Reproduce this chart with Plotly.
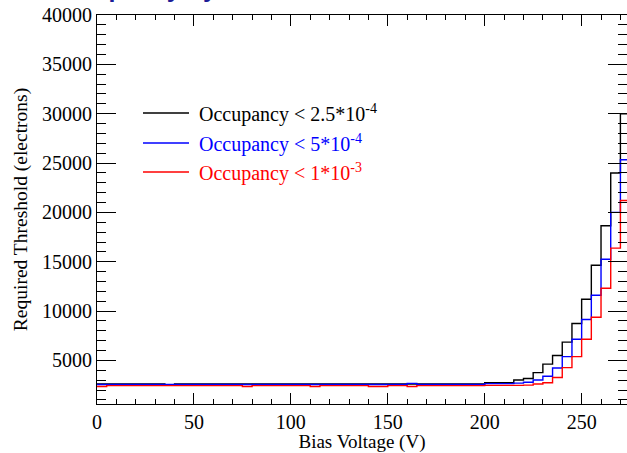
import plotly.graph_objects as go

# Bin edges of the bias-voltage histograms (5 V bins)
bin_width = 5
bin_lo = list(range(0, 275, bin_width))  # 0, 5, ..., 270

# Required threshold (electrons) per bin for each occupancy cut
thr_2p5e4 = [2620] * 40 + [2750, 2750, 2750, 3020, 3170, 3765, 4630, 5510,
                           6860, 8740, 11200, 14640, 18645, 23990, 29980]
thr_5e4 = [2570] * 40 + [2650, 2650, 2650, 2700, 2800, 3020, 3400, 4230,
                         5390, 7150, 9150, 11600, 15250, 20000, 25340]
thr_1e3 = [2450] * 40 + [2480, 2480, 2480, 2480, 2500, 2620, 2750, 3280,
                         4280, 5390, 7150, 9380, 12320, 16380, 21200]

# small bin-to-bin fluctuations on the flat part
thr_2p5e4[7] = 2540
thr_5e4[32] = 2680
for i in (0, 15, 22, 28, 29, 32):
    thr_1e3[i] = 2360

series = [
    ("Occupancy < 2.5*10<sup>-4</sup>", thr_2p5e4, "#000000"),
    ("Occupancy < 5*10<sup>-4</sup>", thr_5e4, "#0000ff"),
    ("Occupancy < 1*10<sup>-3</sup>", thr_1e3, "#ff0000"),
]

x_ticks = [0, 50, 100, 150, 200, 250]
y_ticks = [5000, 10000, 15000, 20000, 25000, 30000, 35000, 40000]

serif = "Liberation Serif, Times New Roman, serif"

W, H = 627, 453
ML, MR, MT, MB = 97, 0, 15, 49


def px_to_paper(px, py):
    """Convert page pixel coordinates to paper coordinates."""
    return ((px - ML) / (W - ML - MR), (H - MB - py) / (H - MT - MB))


fig = go.Figure()
for name, vals, col in series:
    xs = bin_lo + [bin_lo[-1] + bin_width]
    ys = vals + [vals[-1]]
    fig.add_trace(go.Scatter(
        x=xs, y=ys, mode="lines", line=dict(shape="hv", color=col, width=1.4),
        name=name, showlegend=False, hoverinfo="skip"))

# legend entries: short line sample followed by coloured label
leg_y = [113, 143, 172]
for (name, vals, col), yy in zip(series, leg_y):
    x0, yp = px_to_paper(143, yy)
    x1, _ = px_to_paper(189, yy)
    xt, _ = px_to_paper(197, yy)
    fig.add_shape(type="line", xref="paper", yref="paper",
                  x0=x0, x1=x1, y0=yp, y1=yp, line=dict(color=col, width=1.3))
    fig.add_annotation(xref="paper", yref="paper", x=xt, y=yp,
                       xanchor="left", yanchor="middle", showarrow=False,
                       text=name, font=dict(family=serif, size=20, color=col))

# slide heading above the plot (mostly outside the page)
hx, hy = px_to_paper(44, 4.5)
fig.add_annotation(xref="paper", yref="paper", x=hx, y=hy,
                   xanchor="left", yanchor="bottom", showarrow=False,
                   text="<b>Occupancy by</b>",
                   font=dict(family="Liberation Sans, Arial, sans-serif",
                             size=25, color="#1c1c96"))

axis_common = dict(showline=True, linecolor="black", linewidth=1,
                   mirror="allticks", ticks="inside", tickcolor="black",
                   showgrid=False, zeroline=False,
                   tickfont=dict(family=serif, size=20, color="black"))

fig.update_xaxes(range=[0, 273.4], tickvals=x_ticks,
                 ticktext=[str(v) for v in x_ticks], ticklen=11,
                 minor=dict(dtick=10, ticklen=5, ticks="inside", tickcolor="black"),
                 title=dict(text="Bias Voltage (V)", standoff=2,
                            font=dict(family=serif, size=19, color="black")),
                 **axis_common)
fig.update_yaxes(range=[590, 40000], tickvals=y_ticks,
                 ticktext=[str(v) for v in y_ticks], ticklen=19,
                 minor=dict(dtick=1000, ticklen=9, ticks="inside", tickcolor="black"),
                 title=dict(text="Required Threshold (electrons)", standoff=9,
                            font=dict(family=serif, size=19.5, color="black")),
                 **axis_common)

fig.update_layout(width=W, height=H, plot_bgcolor="white", paper_bgcolor="white",
                  margin=dict(l=ML, r=MR, t=MT, b=MB))

fig.write_html("out.html")
